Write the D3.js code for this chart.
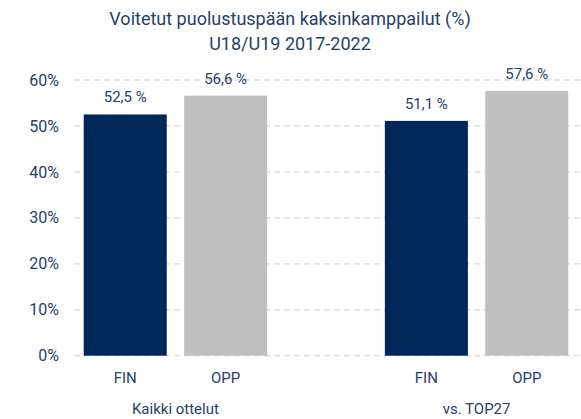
<!DOCTYPE html>
<html>
<head>
<meta charset="utf-8">
<script src="https://cdn.jsdelivr.net/npm/d3@7"></script>
<style>
  body { margin: 0; background: #fff; }
  text { font-family: Roboto, "DejaVu Sans", sans-serif; fill: #253f6a; }
</style>
</head>
<body>
<div class="chart"></div>
<script>
// data
const groups = ['Kaikki ottelut', 'vs. TOP27'];
const teams = ['FIN', 'OPP'];
const values = [52.5, 56.6, 51.1, 57.6];
const yTicks = [0, 10, 20, 30, 40, 50, 60];
const titleLines = ['Voitetut puolustuspään kaksinkamppailut (%)', 'U18/U19 2017-2022'];

const width = 581, height = 419;
const colors = {FIN: '#00275a', OPP: '#bfbfbf'};

const svg = d3.select('.chart')
    .append('svg')
    .attr('width', width)
    .attr('height', height);

// five slots, middle one empty, to leave the gap between groups
const slots = ['g0-FIN', 'g0-OPP', 'gap', 'g1-FIN', 'g1-OPP'];
const bars = values.map((v, i) => ({
    group: Math.floor(i / 2),
    team: teams[i % 2],
    value: v,
    key: 'g' + Math.floor(i / 2) + '-' + teams[i % 2]
}));

const xScale = d3.scaleBand()
    .domain(slots)
    .range([75, 577])
    .paddingInner(0.173)
    .paddingOuter(0.087);

const yScale = d3.scaleLinear()
    .domain([0, 60])
    .range([355.7, 80]);

// gridlines
svg.append('g')
    .selectAll('line')
    .data(yTicks)
    .enter()
    .append('line')
    .attr('x1', 74)
    .attr('x2', width)
    .attr('y1', d => yScale(d))
    .attr('y2', d => yScale(d))
    .attr('stroke', '#d9d9d9')
    .attr('stroke-width', 1.3)
    .attr('stroke-dasharray', '6,4');

// y axis labels
const yAxis = d3.axisLeft(yScale)
    .tickValues(yTicks)
    .tickFormat(d => d + '%')
    .tickSize(0)
    .tickPadding(0);

svg.append('g')
    .attr('class', 'axis y-axis')
    .attr('transform', 'translate(59,0)')
    .call(yAxis)
    .call(g => g.select('.domain').remove())
    .selectAll('text')
    .attr('font-size', 16)
    .attr('fill', '#253f6a');

// bars
svg.selectAll('.bar')
    .data(bars)
    .enter()
    .append('rect')
    .attr('class', 'bar')
    .attr('x', d => xScale(d.key))
    .attr('y', d => yScale(d.value))
    .attr('width', xScale.bandwidth())
    .attr('height', d => yScale(0) - yScale(d.value))
    .attr('fill', d => colors[d.team]);

// value labels
svg.selectAll('.value')
    .data(bars)
    .enter()
    .append('text')
    .attr('class', 'value')
    .attr('x', d => xScale(d.key) + xScale.bandwidth() / 2)
    .attr('y', d => yScale(d.value) - 12)
    .attr('text-anchor', 'middle')
    .attr('font-size', 15)
    .text(d => d3.format('.1f')(d.value).replace('.', ',') + ' %');

// team labels
svg.selectAll('.team')
    .data(bars)
    .enter()
    .append('text')
    .attr('class', 'team')
    .attr('x', d => xScale(d.key) + xScale.bandwidth() / 2)
    .attr('y', 383)
    .attr('text-anchor', 'middle')
    .attr('font-size', 15)
    .text(d => d.team);

// group labels
svg.selectAll('.group')
    .data(groups)
    .enter()
    .append('text')
    .attr('class', 'group')
    .attr('x', (d, i) => (xScale('g' + i + '-FIN') + xScale('g' + i + '-OPP') + xScale.bandwidth()) / 2)
    .attr('y', 414)
    .attr('text-anchor', 'middle')
    .attr('font-size', 15)
    .text(d => d);

// title
svg.selectAll('.title')
    .data(titleLines)
    .enter()
    .append('text')
    .attr('class', 'title')
    .attr('x', 290)
    .attr('y', (d, i) => 25 + i * 25)
    .attr('text-anchor', 'middle')
    .attr('font-size', 18)
    .attr('fill', '#1f3763')
    .text(d => d);
</script>
</body>
</html>
